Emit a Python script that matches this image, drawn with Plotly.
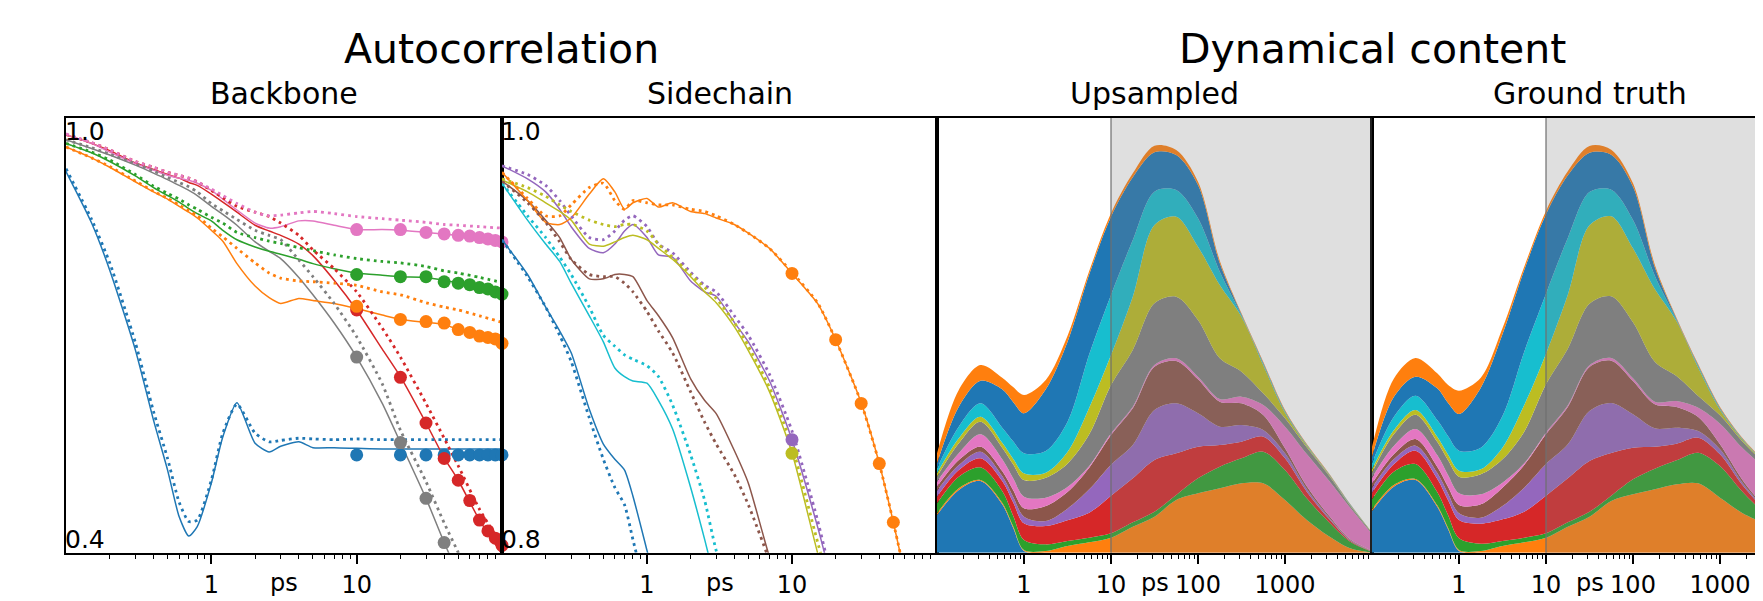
import plotly.graph_objects as go

# page is shown with the browser's default 8px body margin; figure is sized/offset to compensate
OFF = 8
WF, HF = 1763 - OFF, 601 - OFF
FONT = "DejaVu Sans"

TAB = ["#1f77b4", "#ff7f0e", "#2ca02c", "#d62728", "#9467bd",
       "#8c564b", "#e377c2", "#7f7f7f", "#bcbd22", "#17becf"]

# ---------------- Backbone autocorrelation (panel 1) ----------------
BB_T = [0.1, 0.15, 0.2, 0.3, 0.4, 0.5, 0.6, 0.7, 0.8, 1.0, 1.2, 1.5, 2.0, 2.5,
        3.0, 4.0, 5.0, 7.0, 10, 15, 20, 30, 40, 50, 70, 100]
MK_T = [10, 20, 30, 40, 50, 60, 70, 80, 90, 100]

bb_blue_solid = [0.926, 0.855, 0.79, 0.68, 0.583, 0.514, 0.45, 0.423, 0.436, 0.496, 0.56, 0.607, 0.551,
                 0.539, 0.547, 0.553, 0.545, 0.545, 0.544, 0.543, 0.543, 0.543, 0.543, 0.543, 0.543, 0.543]
bb_blue_dot = [0.93, 0.86, 0.80, 0.69, 0.595, 0.53, 0.47, 0.443, 0.445, 0.50, 0.565, 0.605, 0.565,
               0.553, 0.555, 0.558, 0.557, 0.556, 0.557, 0.556, 0.556, 0.556, 0.556, 0.556, 0.556, 0.556]
bb_blue_mk = [0.535, 0.535, 0.535, 0.535, 0.535, 0.535, 0.535, 0.535, 0.535, 0.535]

bb_orange_solid = [0.960, 0.945, 0.932, 0.912, 0.898, 0.888, 0.878, 0.870, 0.862, 0.845, 0.83, 0.799, 0.768,
                   0.752, 0.744, 0.751, 0.748, 0.744, 0.737, 0.728, 0.722, 0.718, 0.715, 0.708, 0.70, 0.689]
bb_orange_dot = [0.960, 0.945, 0.933, 0.913, 0.899, 0.889, 0.880, 0.872, 0.865, 0.848, 0.836, 0.82, 0.80,
                 0.786, 0.779, 0.775, 0.774, 0.772, 0.769, 0.760, 0.756, 0.745, 0.739, 0.735, 0.727, 0.718]
bb_orange_mk = [0.740, 0.722, 0.719, 0.717, 0.708, 0.704, 0.699, 0.697, 0.695, 0.689]

bb_green_solid = [0.965, 0.952, 0.94, 0.92, 0.904, 0.893, 0.884, 0.875, 0.868, 0.858, 0.845, 0.832, 0.822,
                  0.816, 0.812, 0.805, 0.799, 0.792, 0.786, 0.783, 0.781, 0.78, 0.776, 0.772, 0.765, 0.757]
bb_green_dot = [0.965, 0.953, 0.942, 0.922, 0.906, 0.896, 0.888, 0.88, 0.874, 0.863, 0.855, 0.842, 0.835,
                0.83, 0.827, 0.821, 0.817, 0.811, 0.806, 0.802, 0.80, 0.795, 0.789, 0.786, 0.78, 0.773]
bb_green_mk = [0.784, 0.781, 0.781, 0.774, 0.772, 0.770, 0.766, 0.764, 0.760, 0.757]

bb_red_solid = [0.977, 0.965, 0.955, 0.938, 0.929, 0.922, 0.917, 0.911, 0.907, 0.895, 0.884, 0.87, 0.852,
                0.844, 0.838, 0.826, 0.81, 0.776, 0.735, 0.681, 0.643, 0.579, 0.531, 0.50, 0.445, 0.398]
bb_red_dot = [0.977, 0.966, 0.956, 0.94, 0.932, 0.925, 0.921, 0.917, 0.912, 0.90, 0.89, 0.878, 0.87,
              0.864, 0.855, 0.838, 0.818, 0.792, 0.76, 0.71, 0.67, 0.606, 0.558, 0.52, 0.46, 0.41]
bb_red_mk = [0.735, 0.642, 0.579, 0.530, 0.500, 0.472, 0.445, 0.430, 0.420, 0.410]

bb_pink_solid = [0.977, 0.965, 0.953, 0.937, 0.928, 0.921, 0.917, 0.914, 0.91, 0.90, 0.888, 0.873, 0.855,
                 0.848, 0.85, 0.858, 0.858, 0.852, 0.846, 0.846, 0.845, 0.842, 0.84, 0.838, 0.835, 0.829]
bb_pink_dot = [0.978, 0.966, 0.956, 0.94, 0.932, 0.925, 0.921, 0.917, 0.912, 0.902, 0.893, 0.882, 0.87,
               0.865, 0.866, 0.869, 0.871, 0.868, 0.864, 0.861, 0.859, 0.856, 0.853, 0.852, 0.85, 0.848]
bb_pink_mk = [0.846, 0.846, 0.842, 0.840, 0.838, 0.837, 0.835, 0.833, 0.831, 0.829]

bb_gray_solid = [0.970, 0.958, 0.949, 0.935, 0.924, 0.915, 0.907, 0.90, 0.893, 0.878, 0.867, 0.852, 0.829,
                 0.816, 0.806, 0.78, 0.756, 0.717, 0.670, 0.606, 0.552, 0.475, 0.414, 0.37, None, None]
bb_gray_dot = [0.970, 0.959, 0.950, 0.937, 0.927, 0.918, 0.911, 0.905, 0.898, 0.882, 0.872, 0.86, 0.845,
               0.838, 0.832, 0.804, 0.781, 0.744, 0.698, 0.633, 0.569, 0.498, 0.441, 0.40, 0.33, None]
bb_gray_mk = [0.670, 0.552, 0.475, 0.414]

# ---------------- Sidechain autocorrelation (panel 2) ----------------
SC_T = [0.1, 0.15, 0.2, 0.25, 0.3, 0.4, 0.5, 0.6, 0.7, 0.8, 1.0, 1.2, 1.5, 2.0, 2.5, 3.0,
        4.0, 5.0, 7.0, 10, 15, 20, 30, 40, 50, 60]

sc_blue_solid = [0.944, 0.928, 0.913, 0.902, 0.892, 0.866, 0.850, 0.843, 0.838, 0.826, 0.801, 0.78]
sc_blue_dot = [0.944, 0.927, 0.913, 0.900, 0.888, 0.862, 0.843, 0.830, 0.822, 0.806, 0.78]
sc_cyan_solid = [0.970, 0.953, 0.942, 0.934, 0.924, 0.909, 0.897, 0.885, 0.881, 0.879, 0.878, 0.870,
                 0.857, 0.830, 0.806, 0.785]
sc_cyan_dot = [0.970, 0.955, 0.945, 0.936, 0.928, 0.913, 0.900, 0.895, 0.891, 0.889, 0.886, 0.881,
               0.868, 0.845, 0.824, 0.801, 0.775]
sc_brown_solid = [0.971, 0.962, 0.953, 0.945, 0.935, 0.926, 0.926, 0.928, 0.928, 0.927, 0.916, 0.909,
                  0.899, 0.880, 0.870, 0.864, 0.847, 0.832, 0.798, 0.77]
sc_brown_dot = [0.971, 0.961, 0.952, 0.943, 0.935, 0.928, 0.927, 0.927, 0.924, 0.920, 0.911, 0.902,
                0.892, 0.874, 0.860, 0.850, 0.836, 0.822, 0.796, 0.76]
sc_purple_solid = [0.978, 0.972, 0.966, 0.958, 0.950, 0.940, 0.938, 0.942, 0.948, 0.951, 0.945, 0.937,
                   0.936, 0.925, 0.920, 0.918, 0.906, 0.897, 0.879, 0.852, 0.812, 0.78]
sc_purple_dot = [0.978, 0.974, 0.969, 0.962, 0.955, 0.945, 0.944, 0.948, 0.953, 0.955, 0.950, 0.942,
                 0.938, 0.929, 0.923, 0.920, 0.909, 0.900, 0.882, 0.856, 0.815, 0.78]
sc_olive_solid = [0.9715, 0.966, 0.961, 0.957, 0.953, 0.942, 0.941, 0.943, 0.945, 0.946, 0.944, 0.940,
                  0.935, 0.927, 0.920, 0.915, 0.904, 0.893, 0.874, 0.846, 0.80, 0.77]
sc_olive_dot = [0.972, 0.968, 0.964, 0.960, 0.957, 0.953, 0.951, 0.950, 0.951, 0.951, 0.948, 0.942,
                0.936, 0.928, 0.922, 0.917, 0.906, 0.895, 0.876, 0.849, 0.805, 0.775]
sc_orange_solid = [0.975, 0.962, 0.952, 0.951, 0.954, 0.965, 0.972, 0.966, 0.958, 0.961, 0.963, 0.959,
                   0.961, 0.957, 0.956, 0.954, 0.951, 0.947, 0.940, 0.9285, 0.9147, 0.898, 0.869, 0.841,
                   0.814, 0.79]
sc_orange_dot = [0.975, 0.963, 0.955, 0.955, 0.960, 0.968, 0.970, 0.962, 0.958, 0.962, 0.961, 0.960,
                 0.960, 0.958, 0.957, 0.955, 0.951, 0.947, 0.940, 0.929, 0.915, 0.898, 0.869, 0.841,
                 0.814, 0.79]
sc_orange_mk = [0.9285, 0.898, 0.8687, 0.841, 0.814]
sc_purple_mk = [0.852]
sc_olive_mk = [0.8457]

# ---------------- Dynamical content (panels 3, 4) ----------------
DC_T = [0.1, 0.178, 0.316, 0.562, 0.75, 1, 1.78, 3.16, 5.62, 10, 17.8, 31.6, 56.2, 100,
        178, 316, 562, 1000, 1780, 3160, 5620, 10000]
DC_COLORS = [TAB[0], TAB[1], TAB[2], TAB[3], TAB[4], TAB[5], TAB[6], TAB[7], TAB[8], TAB[9], TAB[0], TAB[1]]

up_layers = [
    [113, 188, 215, 145, 75, 5, 0, 0, 0, 0, 0, 0, 0, 0, 0, 0, 0, 0, 0, 0, 0, 0],
    [5, 5, 3, 5, 4, 3, 5, 20, 31, 45, 78, 108, 158, 178, 193, 208, 208, 158, 98, 50, 13, 0],
    [30, 35, 38, 35, 32, 30, 20, 15, 14, 13, 13, 15, 15, 45, 65, 75, 95, 90, 65, 43, 20, 3],
    [20, 20, 27, 30, 40, 50, 55, 62, 75, 113, 132, 155, 125, 95, 65, 50, 45, 35, 20, 10, 3, 1],
    [18, 15, 20, 15, 17, 20, 15, 35, 70, 93, 100, 150, 150, 100, 55, 50, 20, 15, 8, 5, 2, 1],
    [12, 15, 15, 15, 20, 25, 45, 50, 65, 89, 110, 130, 127, 102, 75, 65, 45, 15, 8, 5, 2, 1],
    [15, 20, 37, 35, 35, 35, 25, 15, 5, 5, 5, 5, 8, 8, 8, 20, 30, 65, 97, 105, 95, 50],
    [15, 30, 38, 35, 42, 50, 60, 70, 95, 145, 170, 185, 185, 170, 122, 75, 35, 25, 20, 15, 6, 4],
    [10, 15, 15, 15, 17, 20, 15, 35, 80, 90, 160, 235, 240, 220, 220, 165, 85, 17, 5, 3, 2, 1],
    [15, 35, 40, 45, 52, 60, 65, 90, 160, 180, 170, 100, 80, 85, 40, 4, 4, 3, 2, 1, 1, 0],
    [15, 60, 68, 115, 118, 120, 185, 240, 240, 235, 188, 118, 105, 100, 25, 3, 3, 2, 1, 1, 1, 0],
    [30, 50, 47, 35, 45, 55, 28, 18, 10, 10, 12, 20, 15, 10, 8, 3, 3, 3, 2, 2, 1, 0],
]

gt_layers = [
    [125, 198, 218, 138, 70, 5, 0, 0, 0, 0, 0, 0, 0, 0, 0, 0, 0, 0, 0, 0, 0, 0],
    [5, 5, 3, 4, 4, 3, 5, 20, 31, 45, 78, 108, 155, 175, 190, 205, 208, 165, 120, 88, 50, 10],
    [30, 40, 45, 40, 38, 35, 22, 15, 14, 13, 13, 15, 16, 45, 62, 72, 92, 95, 65, 32, 15, 3],
    [20, 22, 40, 40, 45, 55, 60, 65, 78, 113, 132, 152, 128, 95, 66, 50, 45, 35, 20, 12, 5, 1],
    [15, 15, 15, 18, 20, 20, 18, 40, 72, 95, 102, 150, 150, 100, 55, 48, 20, 15, 8, 4, 2, 1],
    [12, 15, 20, 18, 20, 25, 40, 55, 68, 89, 112, 132, 127, 100, 72, 62, 42, 15, 8, 4, 2, 1],
    [18, 25, 30, 35, 35, 35, 30, 15, 5, 5, 5, 5, 8, 8, 8, 18, 28, 62, 95, 115, 95, 60],
    [15, 35, 43, 40, 45, 50, 60, 70, 95, 145, 170, 185, 185, 168, 120, 75, 35, 25, 20, 12, 6, 4],
    [10, 12, 14, 15, 17, 18, 15, 35, 80, 92, 162, 235, 240, 222, 218, 165, 85, 17, 5, 3, 2, 1],
    [18, 40, 43, 50, 55, 60, 65, 95, 160, 180, 170, 100, 80, 85, 40, 4, 4, 3, 2, 1, 1, 0.5],
    [20, 60, 57, 95, 100, 110, 180, 245, 245, 238, 188, 118, 105, 100, 25, 3, 3, 2, 1, 1, 1, 0.5],
    [30, 55, 56, 45, 54, 70, 30, 18, 10, 10, 12, 20, 15, 10, 8, 3, 3, 3, 2, 2, 1, 0.5],
]

TITLES = ["Autocorrelation", "Dynamical content"]
SUBTITLES = ["Backbone", "Sidechain", "Upsampled", "Ground truth"]
AC_TICKS = [1, 10]
DC_TICKS = [1, 10, 100, 1000]

# ---------------- figure ----------------
fig = go.Figure()


def line(ax, t, y, color, dotted=False):
    if dotted:
        ln = dict(color=color, width=2.8, dash="2.8px,4px", shape="spline", smoothing=0.6)
    else:
        ln = dict(color=color, width=1.5, shape="spline", smoothing=0.6)
    fig.add_trace(go.Scatter(x=t[:len(y)], y=y, mode="lines", line=ln, xaxis="x" + ax,
                             yaxis="y" + ax, showlegend=False, hoverinfo="skip"))


def marks(ax, t, y, color):
    fig.add_trace(go.Scatter(x=t[:len(y)], y=y, mode="markers", cliponaxis=False,
                             marker=dict(size=13, color=color, line=dict(width=0)),
                             xaxis="x" + ax, yaxis="y" + ax, showlegend=False, hoverinfo="skip"))


bb = [(TAB[0], bb_blue_solid, bb_blue_dot, bb_blue_mk),
      (TAB[7], bb_gray_solid, bb_gray_dot, bb_gray_mk),
      (TAB[3], bb_red_solid, bb_red_dot, bb_red_mk),
      (TAB[1], bb_orange_solid, bb_orange_dot, bb_orange_mk),
      (TAB[2], bb_green_solid, bb_green_dot, bb_green_mk),
      (TAB[6], bb_pink_solid, bb_pink_dot, bb_pink_mk)]
for c, s, d, m in bb:
    line("", BB_T, s, c)
for c, s, d, m in bb:
    line("", BB_T, d, c, dotted=True)
for c, s, d, m in bb:
    marks("", MK_T, m, c)

sc = [(TAB[0], sc_blue_solid, sc_blue_dot),
      (TAB[9], sc_cyan_solid, sc_cyan_dot),
      (TAB[5], sc_brown_solid, sc_brown_dot),
      (TAB[4], sc_purple_solid, sc_purple_dot),
      (TAB[8], sc_olive_solid, sc_olive_dot),
      (TAB[1], sc_orange_solid, sc_orange_dot)]
for c, s, d in sc:
    line("2", SC_T, s, c)
for c, s, d in sc:
    line("2", SC_T, d, c, dotted=True)
marks("2", MK_T, sc_orange_mk, TAB[1])
marks("2", MK_T, sc_purple_mk, TAB[4])
marks("2", MK_T, sc_olive_mk, TAB[8])

for ax, layers, grp in (("3", up_layers, "up"), ("4", gt_layers, "gt")):
    for vals, c in zip(layers, DC_COLORS):
        fig.add_trace(go.Scatter(x=DC_T, y=vals, stackgroup=grp, mode="lines",
                                 line=dict(width=0, color=c, shape="spline", smoothing=0.9),
                                 fillcolor=c, xaxis="x" + ax, yaxis="y" + ax,
                                 showlegend=False, hoverinfo="skip"))

# ---------------- layout (positions given in target-page pixels) ----------------
def fx(p):
    return (p - OFF) / WF


def fy(p):
    return 1 - (p - OFF) / HF


XE = [66, 502, 937, 1372, 1763]
YT, YB = 118, 552.7
ydom = [fy(YB), fy(YT)]


def minor_vals(lo, hi):
    out = []
    for e in range(lo, hi):
        for k in range(2, 10):
            out.append(k * 10 ** e)
    return out


tickfont = dict(family=FONT, size=24, color="black")
common_x = dict(type="log", showgrid=False, zeroline=False, showline=True, linecolor="black",
                linewidth=1.5, mirror=True, ticks="outside", ticklen=10, tickwidth=1.5,
                tickcolor="black", tickfont=tickfont, tickmode="array", automargin=False)
common_y = dict(showgrid=False, zeroline=False, showline=True, linecolor="black", linewidth=1.5,
                mirror=True, ticks="", showticklabels=False, automargin=False)

lay = {}
xranges = [[-1, 2], [-1, 2], [-1, 4], [-1, -1 + (XE[4] - XE[3]) / 87.0]]
yranges = [[0.4, 1.0], [0.8, 1.0], [0, 1304], [0, 1304]]
tickvals = [AC_TICKS, AC_TICKS, DC_TICKS, DC_TICKS]
minors = [minor_vals(-1, 2), minor_vals(-1, 2), minor_vals(-1, 4), minor_vals(-1, 4)]
for i in range(4):
    sfx = "" if i == 0 else str(i + 1)
    xa = dict(common_x)
    xa.update(domain=[fx(XE[i]), min(1.0, fx(XE[i + 1]))], range=xranges[i], anchor="y" + sfx,
              tickvals=tickvals[i], ticktext=[str(v) for v in tickvals[i]],
              minor=dict(ticks="outside", ticklen=5, tickwidth=1, tickcolor="black",
                         tickmode="array", tickvals=minors[i]))
    ya = dict(common_y)
    ya.update(domain=ydom, range=yranges[i], anchor="x" + sfx)
    if i == 3:
        ya["mirror"] = False
    lay["xaxis" + sfx] = xa
    lay["yaxis" + sfx] = ya

shapes = []
for ax in ("3", "4"):
    shapes.append(dict(type="rect", xref="x" + ax, yref="y" + ax + " domain", x0=10, x1=10000,
                       y0=0, y1=1, fillcolor="rgba(128,128,128,0.25)", line=dict(width=0),
                       layer="above"))
    shapes.append(dict(type="line", xref="x" + ax, yref="y" + ax + " domain", x0=10, x1=10,
                       y0=0, y1=1, line=dict(color="rgba(110,110,110,0.8)", width=1.5),
                       layer="above"))

ann = []
for text, cx in ((TITLES[0], (XE[0] + XE[2]) / 2), (TITLES[1], (XE[2] + 1807) / 2)):
    ann.append(dict(text=text, x=fx(cx), y=fy(49), xref="paper", yref="paper", showarrow=False,
                    xanchor="center", yanchor="middle", font=dict(family=FONT, size=41, color="black")))
centers = [(XE[0] + XE[1]) / 2, (XE[1] + XE[2]) / 2, (XE[2] + XE[3]) / 2, (XE[3] + 1807) / 2]
for c, t in zip(centers, SUBTITLES):
    ann.append(dict(text=t, x=fx(c), y=fy(93.6), xref="paper", yref="paper", showarrow=False,
                    xanchor="center", yanchor="middle", font=dict(family=FONT, size=30, color="black")))
for c in centers:
    ann.append(dict(text="ps", x=fx(c), y=fy(567), xref="paper", yref="paper", showarrow=False,
                    xanchor="center", yanchor="top", font=dict(family=FONT, size=24, color="black")))
for xl, top_t, bot_t in ((XE[0], "1.0", "0.4"), (XE[1], "1.0", "0.8")):
    ann.append(dict(text=top_t, x=fx(xl - 3), y=fy(115), xref="paper", yref="paper",
                    showarrow=False, xanchor="left", yanchor="top",
                    font=dict(family=FONT, size=25, color="black")))
    ann.append(dict(text=bot_t, x=fx(xl - 3), y=fy(555.5), xref="paper", yref="paper",
                    showarrow=False, xanchor="left", yanchor="bottom",
                    font=dict(family=FONT, size=25, color="black")))

fig.update_layout(width=WF, height=HF, margin=dict(l=0, r=0, t=0, b=0), paper_bgcolor="white",
                  plot_bgcolor="white", showlegend=False, shapes=shapes, annotations=ann,
                  font=dict(family=FONT), **lay)

fig.write_html("out.html")
